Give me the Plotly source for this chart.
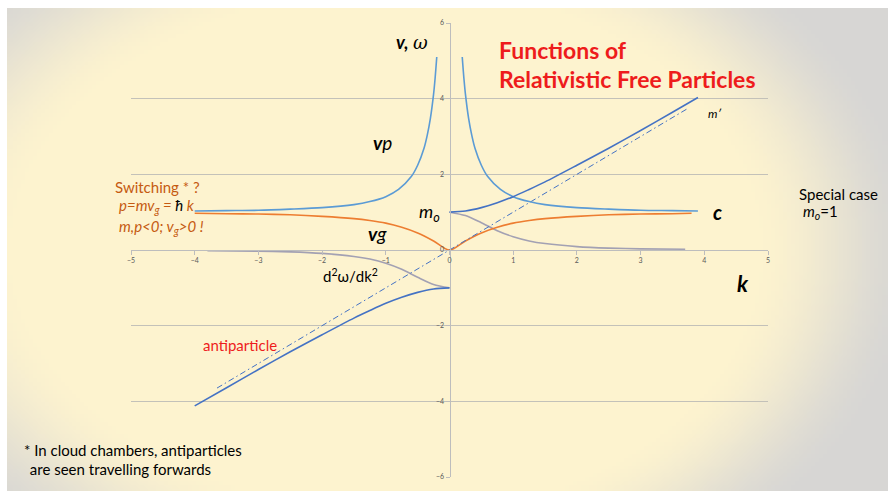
import base64
import struct
import zlib

import plotly.graph_objects as go

# ---------------- data (m_o = 1) ----------------
# total frequency omega, particle branch
k_omega_pos = [0.0, 0.25, 0.5, 0.75, 1.0, 1.25, 1.5, 2.0, 2.5, 3.0, 3.5, 3.9]
omega_pos = [1.00, 1.03, 1.12, 1.25, 1.41, 1.60, 1.80, 2.24, 2.69, 3.16, 3.64, 4.03]
# antiparticle branch
k_omega_neg = [-4.0, -3.5, -3.0, -2.5, -2.0, -1.5, -1.25, -1.0, -0.75, -0.5, -0.25, 0.0]
omega_neg = [-4.12, -3.64, -3.16, -2.69, -2.24, -1.80, -1.60, -1.41, -1.25, -1.12, -1.03, -1.00]

# phase velocity v_p
k_vp_left = [-4.0, -3.5, -3.0, -2.5, -2.0, -1.5, -1.25, -1.0, -0.8, -0.6, -0.5, -0.4,
             -0.35, -0.3, -0.25, -0.225, -0.2]
vp_left = [1.03, 1.04, 1.05, 1.08, 1.12, 1.20, 1.28, 1.41, 1.60, 1.94, 2.24, 2.69,
           3.03, 3.48, 4.12, 4.56, 5.10]
k_vp_right = [0.2, 0.225, 0.25, 0.3, 0.35, 0.4, 0.5, 0.6, 0.8, 1.0, 1.25, 1.5,
              2.0, 2.5, 3.0, 3.5, 3.9]
vp_right = [5.10, 4.56, 4.12, 3.48, 3.03, 2.69, 2.24, 1.94, 1.60, 1.41, 1.28, 1.20,
            1.12, 1.08, 1.05, 1.04, 1.03]

# group velocity v_g
k_vg = [-4.0, -3.5, -3.0, -2.5, -2.0, -1.5, -1.25, -1.0, -0.75, -0.5, -0.25, 0.0,
        0.25, 0.5, 0.75, 1.0, 1.25, 1.5, 2.0, 2.5, 3.0, 3.5, 3.8]
vg = [0.97, 0.96, 0.95, 0.93, 0.89, 0.83, 0.78, 0.71, 0.60, 0.45, 0.24, 0.0,
      0.24, 0.45, 0.60, 0.71, 0.78, 0.83, 0.89, 0.93, 0.95, 0.96, 0.97]

# curvature d2(omega)/dk2
k_d2_left = [-3.8, -3.0, -2.5, -2.0, -1.5, -1.25, -1.0, -0.75, -0.5, -0.25, 0.0]
d2_left = [-0.02, -0.03, -0.05, -0.09, -0.17, -0.24, -0.35, -0.51, -0.72, -0.91, -1.00]
k_d2_right = [0.0, 0.25, 0.5, 0.75, 1.0, 1.25, 1.5, 2.0, 2.5, 3.0, 3.7]
d2_right = [1.00, 0.91, 0.72, 0.51, 0.35, 0.24, 0.17, 0.09, 0.05, 0.03, 0.02]

# light line m'
k_light = [-3.65, 3.76]
omega_light = [-3.65, 3.76]

x_ticks = [-5, -4, -3, -2, -1, 0, 1, 2, 3, 4, 5]
y_ticks = [-6, -4, -2, 0, 2, 4, 6]

# ---------------- geometry ----------------
W, H = 888, 493
ML, MR, MT, MB = 131, 120, 23, 16
PW, PH = W - ML - MR, H - MT - MB


def px(x):
    return (x - ML) / PW


def py(y):
    return (H - MB - y) / PH


# ---------------- slide backdrop (cream with grey vignette) ----------------
def backdrop_png(w, h):
    cream = (253, 243, 207)
    grey = (215, 214, 212)
    rows = []
    for j in range(h):
        yy = 8 + (j + 0.5) / h * 483
        row = bytearray([0])
        for i in range(w):
            xx = 7 + (i + 0.5) / w * 881
            dx = (xx - 410) / (440 if xx > 410 else 500)
            dy = (yy - 250) / 330
            d = (dx * dx + dy * dy) ** 0.5
            t = min(1.0, max(0.0, (d - 0.78) / 0.38))
            t = t * t * (3 - 2 * t)
            row += bytes(int(round(cream[c] + (grey[c] - cream[c]) * t)) for c in range(3))
        rows.append(bytes(row))
    raw = b"".join(rows)

    def chunk(tag, data):
        c = struct.pack(">I", len(data)) + tag + data
        return c + struct.pack(">I", zlib.crc32(tag + data) & 0xFFFFFFFF)

    png = b"\x89PNG\r\n\x1a\n"
    png += chunk(b"IHDR", struct.pack(">IIBBBBB", w, h, 8, 2, 0, 0, 0))
    png += chunk(b"IDAT", zlib.compress(raw, 9))
    png += chunk(b"IEND", b"")
    return "data:image/png;base64," + base64.b64encode(png).decode()


fig = go.Figure()

LW = 1.6
BLUE_LIGHT = "#5B9BD5"
BLUE_DARK = "#4472C4"
ORANGE = "#ED7D31"
GREY = "#A3A1B3"


def curve(x, y, color, width=LW, dash=None):
    fig.add_trace(go.Scatter(
        x=x, y=y, mode="lines",
        line=dict(color=color, width=width, shape="spline", smoothing=0.8, dash=dash),
        hoverinfo="skip", showlegend=False))


curve(k_d2_left, d2_left, GREY)
curve(k_d2_right, d2_right, GREY)
curve(k_vg, vg, ORANGE)
curve(k_light, omega_light, BLUE_DARK, width=1.0, dash="6px,3px,1.5px,3px")
curve(k_vp_left, vp_left, BLUE_LIGHT)
curve(k_vp_right, vp_right, BLUE_LIGHT)
curve(k_omega_neg, omega_neg, BLUE_DARK)
curve(k_omega_pos, omega_pos, BLUE_DARK)

BODY = "Lato"
ann = []


def text(s, x, y, size, color="black", anchor="center", family=BODY):
    ann.append(dict(text=s, x=px(x), y=py(y), xref="paper", yref="paper",
                    xanchor=anchor, yanchor="middle", showarrow=False,
                    font=dict(family=family, size=size, color=color)))


RED = "#EE1C1C"
ORANGE_TXT = "#C55A11"

text("<b>Functions of</b>", 497, 50, 23, RED, "left")
text("<b>Relativistic Free Particles</b>", 497, 79, 23, RED, "left")
text("<b><i>v,</i></b> <i><span style='font-family:DejaVu Serif'>ω</span></i>", 412, 42, 18)
text("<b><i>v</i></b><i>p</i>", 382, 142, 19)
text("<b><i>v</i></b><i>g</i>", 377, 233, 19)
text("<i>m<sub>o</sub></i>", 417, 212, 18, anchor="left")
text("d<sup>2</sup>ω/dk<sup>2</sup>", 350, 275, 15)
text("antiparticle", 240, 345, 15, RED)
text("<b><i>k</i></b>", 743, 283, 22)
text("<i>m′</i>", 714, 113, 12)
text("<b><i>c</i></b>", 717, 212, 20)
text("Special case", 797, 194, 15, anchor="left")
text("<i>m<sub>o</sub></i>=1", 801, 212, 15, anchor="left")
text("Switching * ?", 113, 187, 15, ORANGE_TXT, "left")
text("<i>p=mv<sub>g</sub> = <span style='color:black'>ħ</span> k</i>", 117, 206, 15,
     ORANGE_TXT, "left")
text("<i>m,p&lt;0; v<sub>g</sub>&gt;0 !</i>", 117, 227, 15, ORANGE_TXT, "left")
text("* In cloud chambers, antiparticles", 22, 450, 15, anchor="left")
text(" are seen travelling forwards", 24, 469, 15, anchor="left")

axis_common = dict(
    showline=True, linecolor="#BDBDBD", linewidth=1,
    ticks="outside", ticklen=4, tickcolor="#BDBDBD", tickwidth=1,
    tickfont=dict(family=BODY, size=7, color="#595959"),
    zeroline=False, fixedrange=True, anchor="free", position=0.5,
)

fig.update_layout(
    width=W, height=H,
    margin=dict(l=ML, r=MR, t=MT, b=MB, pad=0),
    paper_bgcolor="white", plot_bgcolor="rgba(0,0,0,0)",
    xaxis=dict(range=[-5, 5], tickvals=x_ticks, showgrid=False, **axis_common),
    yaxis=dict(range=[-6, 6], tickvals=y_ticks, showgrid=True,
               gridcolor="#C3C1B9", gridwidth=1, **axis_common),
    annotations=ann,
    images=[dict(source=backdrop_png(222, 122), xref="paper", yref="paper",
                 x=px(7), y=py(8), sizex=881 / PW, sizey=483 / PH,
                 xanchor="left", yanchor="top", sizing="stretch", layer="below")],
    showlegend=False,
)

fig.write_html("out.html")
